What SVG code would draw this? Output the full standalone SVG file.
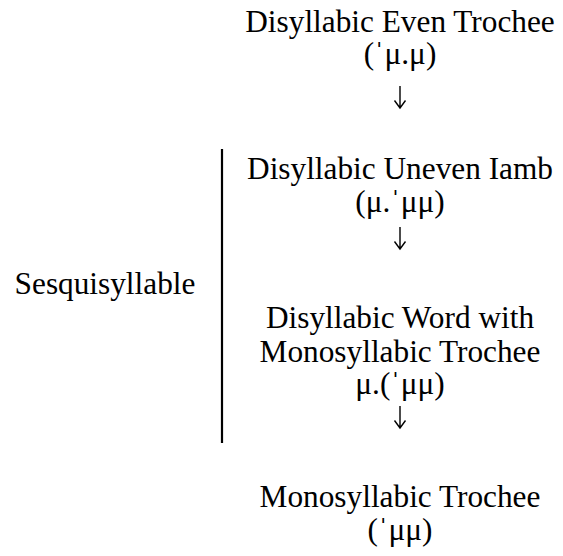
<svg xmlns="http://www.w3.org/2000/svg" width="563" height="556" viewBox="0 0 563 556">
<style>
text{font-family:"Liberation Serif","Times New Roman",serif;font-size:31.3px;fill:#000;text-anchor:middle}
.br{stroke:#000;stroke-width:2.2}
.ar{stroke:#000;stroke-width:1.4;fill:none}
</style>
<rect width="563" height="556" fill="#fff"/>
<g id="n1">
<text x="400" y="32">Disyllabic Even Trochee</text>
<text x="400" y="64">(ˈμ.μ)</text>
</g>
<g id="n2">
<text x="400" y="179">Disyllabic Uneven Iamb</text>
<text x="400" y="212">(μ.ˈμμ)</text>
</g>
<g id="n3">
<text x="400" y="328">Disyllabic Word with</text>
<text x="400" y="362">Monosyllabic Trochee</text>
<text x="400" y="394">μ.(ˈμμ)</text>
</g>
<g id="n4">
<text x="400" y="507">Monosyllabic Trochee</text>
<text x="400" y="540">(ˈμμ)</text>
</g>
<g id="label">
<text x="105" y="294">Sesquisyllable</text>
</g>
<g id="connectors">
<path class="ar" d="M400 86V108M394.5 100.5L400 108L405.5 100.5"/>
<path class="ar" d="M400 227V249M394.5 241.5L400 249L405.5 241.5"/>
<path class="ar" d="M400 406V428M394.5 420.5L400 428L405.5 420.5"/>
<line class="br" x1="222" y1="149" x2="222" y2="443"/>
</g>
</svg>
